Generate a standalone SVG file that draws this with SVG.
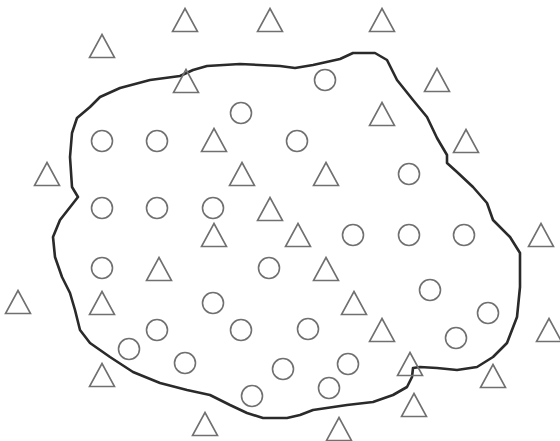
<svg xmlns="http://www.w3.org/2000/svg" xmlns:xlink="http://www.w3.org/1999/xlink" width="560" height="441" viewBox="0 0 560 441">
<style>
.tri{fill:none;stroke:#707070;stroke-width:1.6;stroke-linejoin:miter}
.cir{fill:none;stroke:#707070;stroke-width:1.6}
.bnd{fill:none;stroke:#2a2a2a;stroke-width:2.6;stroke-linejoin:round;stroke-linecap:round}
</style>
<defs>
<path id="tri" d="M0,-11.5 L12.5,11.5 L-12.5,11.5 Z"/>
<circle id="cir" cx="0" cy="0" r="10.5"/>
</defs>
<rect width="560" height="441" fill="#ffffff"/>
<g id="boundary">
<path class="bnd" d="M77,118 L90,107 L100,97 L120,88 L150,80 L180,76 L193,70 L207,66 L240,64 L280,66 L295,68 L313,65 L340,59 L353,53 L375,53 L387,60 L397,80 L413,100 L427,117 L437,138 L447,155 L447,163 L457,172 L473,187 L487,203 L493,220 L510,237 L520,253 L520,287 L517,317 L507,343 L493,357 L477,367 L457,370 L437,368 L420,367 L413,368 L412,377 L407,387 L393,395 L373,402 L347,405 L313,410 L300,415 L287,418 L263,418 L247,413 L230,405 L210,395 L187,390 L160,383 L133,372 L110,357 L90,343 L80,330 L75,310 L70,293 L62,277 L55,257 L53,237 L60,220 L78,197 L72,187 L70,157 L72,133 Z"/>
</g>
<g id="triangles" class="tri">
<g id="t1"><use xlink:href="#tri" x="185" y="20"/></g>
<g id="t2"><use xlink:href="#tri" x="270" y="20"/></g>
<g id="t3"><use xlink:href="#tri" x="382" y="20"/></g>
<g id="t4"><use xlink:href="#tri" x="102" y="46"/></g>
<g id="t5"><use xlink:href="#tri" x="186" y="81"/></g>
<g id="t6"><use xlink:href="#tri" x="437" y="80"/></g>
<g id="t7"><use xlink:href="#tri" x="382" y="114"/></g>
<g id="t8"><use xlink:href="#tri" x="214" y="140"/></g>
<g id="t9"><use xlink:href="#tri" x="466" y="141"/></g>
<g id="t10"><use xlink:href="#tri" x="47" y="174"/></g>
<g id="t11"><use xlink:href="#tri" x="242" y="174"/></g>
<g id="t12"><use xlink:href="#tri" x="326" y="174"/></g>
<g id="t13"><use xlink:href="#tri" x="270" y="209"/></g>
<g id="t14"><use xlink:href="#tri" x="214" y="235"/></g>
<g id="t15"><use xlink:href="#tri" x="298" y="235"/></g>
<g id="t16"><use xlink:href="#tri" x="541" y="235"/></g>
<g id="t17"><use xlink:href="#tri" x="159" y="269"/></g>
<g id="t18"><use xlink:href="#tri" x="326" y="269"/></g>
<g id="t19"><use xlink:href="#tri" x="18" y="302"/></g>
<g id="t20"><use xlink:href="#tri" x="102" y="303"/></g>
<g id="t21"><use xlink:href="#tri" x="354" y="303"/></g>
<g id="t22"><use xlink:href="#tri" x="382" y="330"/></g>
<g id="t23"><use xlink:href="#tri" x="549" y="330"/></g>
<g id="t24"><use xlink:href="#tri" x="410" y="364"/></g>
<g id="t25"><use xlink:href="#tri" x="102" y="375"/></g>
<g id="t26"><use xlink:href="#tri" x="493" y="376"/></g>
<g id="t27"><use xlink:href="#tri" x="414" y="405"/></g>
<g id="t28"><use xlink:href="#tri" x="205" y="424"/></g>
<g id="t29"><use xlink:href="#tri" x="339" y="429"/></g>
</g>
<g id="circles" class="cir">
<g id="c1"><use xlink:href="#cir" x="325" y="80"/></g>
<g id="c2"><use xlink:href="#cir" x="241" y="113"/></g>
<g id="c3"><use xlink:href="#cir" x="102" y="141"/></g>
<g id="c4"><use xlink:href="#cir" x="157" y="141"/></g>
<g id="c5"><use xlink:href="#cir" x="297" y="141"/></g>
<g id="c6"><use xlink:href="#cir" x="409" y="174"/></g>
<g id="c7"><use xlink:href="#cir" x="102" y="208"/></g>
<g id="c8"><use xlink:href="#cir" x="157" y="208"/></g>
<g id="c9"><use xlink:href="#cir" x="213" y="208"/></g>
<g id="c10"><use xlink:href="#cir" x="353" y="235"/></g>
<g id="c11"><use xlink:href="#cir" x="409" y="235"/></g>
<g id="c12"><use xlink:href="#cir" x="464" y="235"/></g>
<g id="c13"><use xlink:href="#cir" x="102" y="268"/></g>
<g id="c14"><use xlink:href="#cir" x="269" y="268"/></g>
<g id="c15"><use xlink:href="#cir" x="430" y="290"/></g>
<g id="c16"><use xlink:href="#cir" x="213" y="303"/></g>
<g id="c17"><use xlink:href="#cir" x="488" y="313"/></g>
<g id="c18"><use xlink:href="#cir" x="157" y="330"/></g>
<g id="c19"><use xlink:href="#cir" x="241" y="330"/></g>
<g id="c20"><use xlink:href="#cir" x="308" y="329"/></g>
<g id="c21"><use xlink:href="#cir" x="456" y="338"/></g>
<g id="c22"><use xlink:href="#cir" x="129" y="349"/></g>
<g id="c23"><use xlink:href="#cir" x="185" y="363"/></g>
<g id="c24"><use xlink:href="#cir" x="283" y="369"/></g>
<g id="c25"><use xlink:href="#cir" x="348" y="364"/></g>
<g id="c26"><use xlink:href="#cir" x="329" y="388"/></g>
<g id="c27"><use xlink:href="#cir" x="252" y="396"/></g>
</g>
</svg>
